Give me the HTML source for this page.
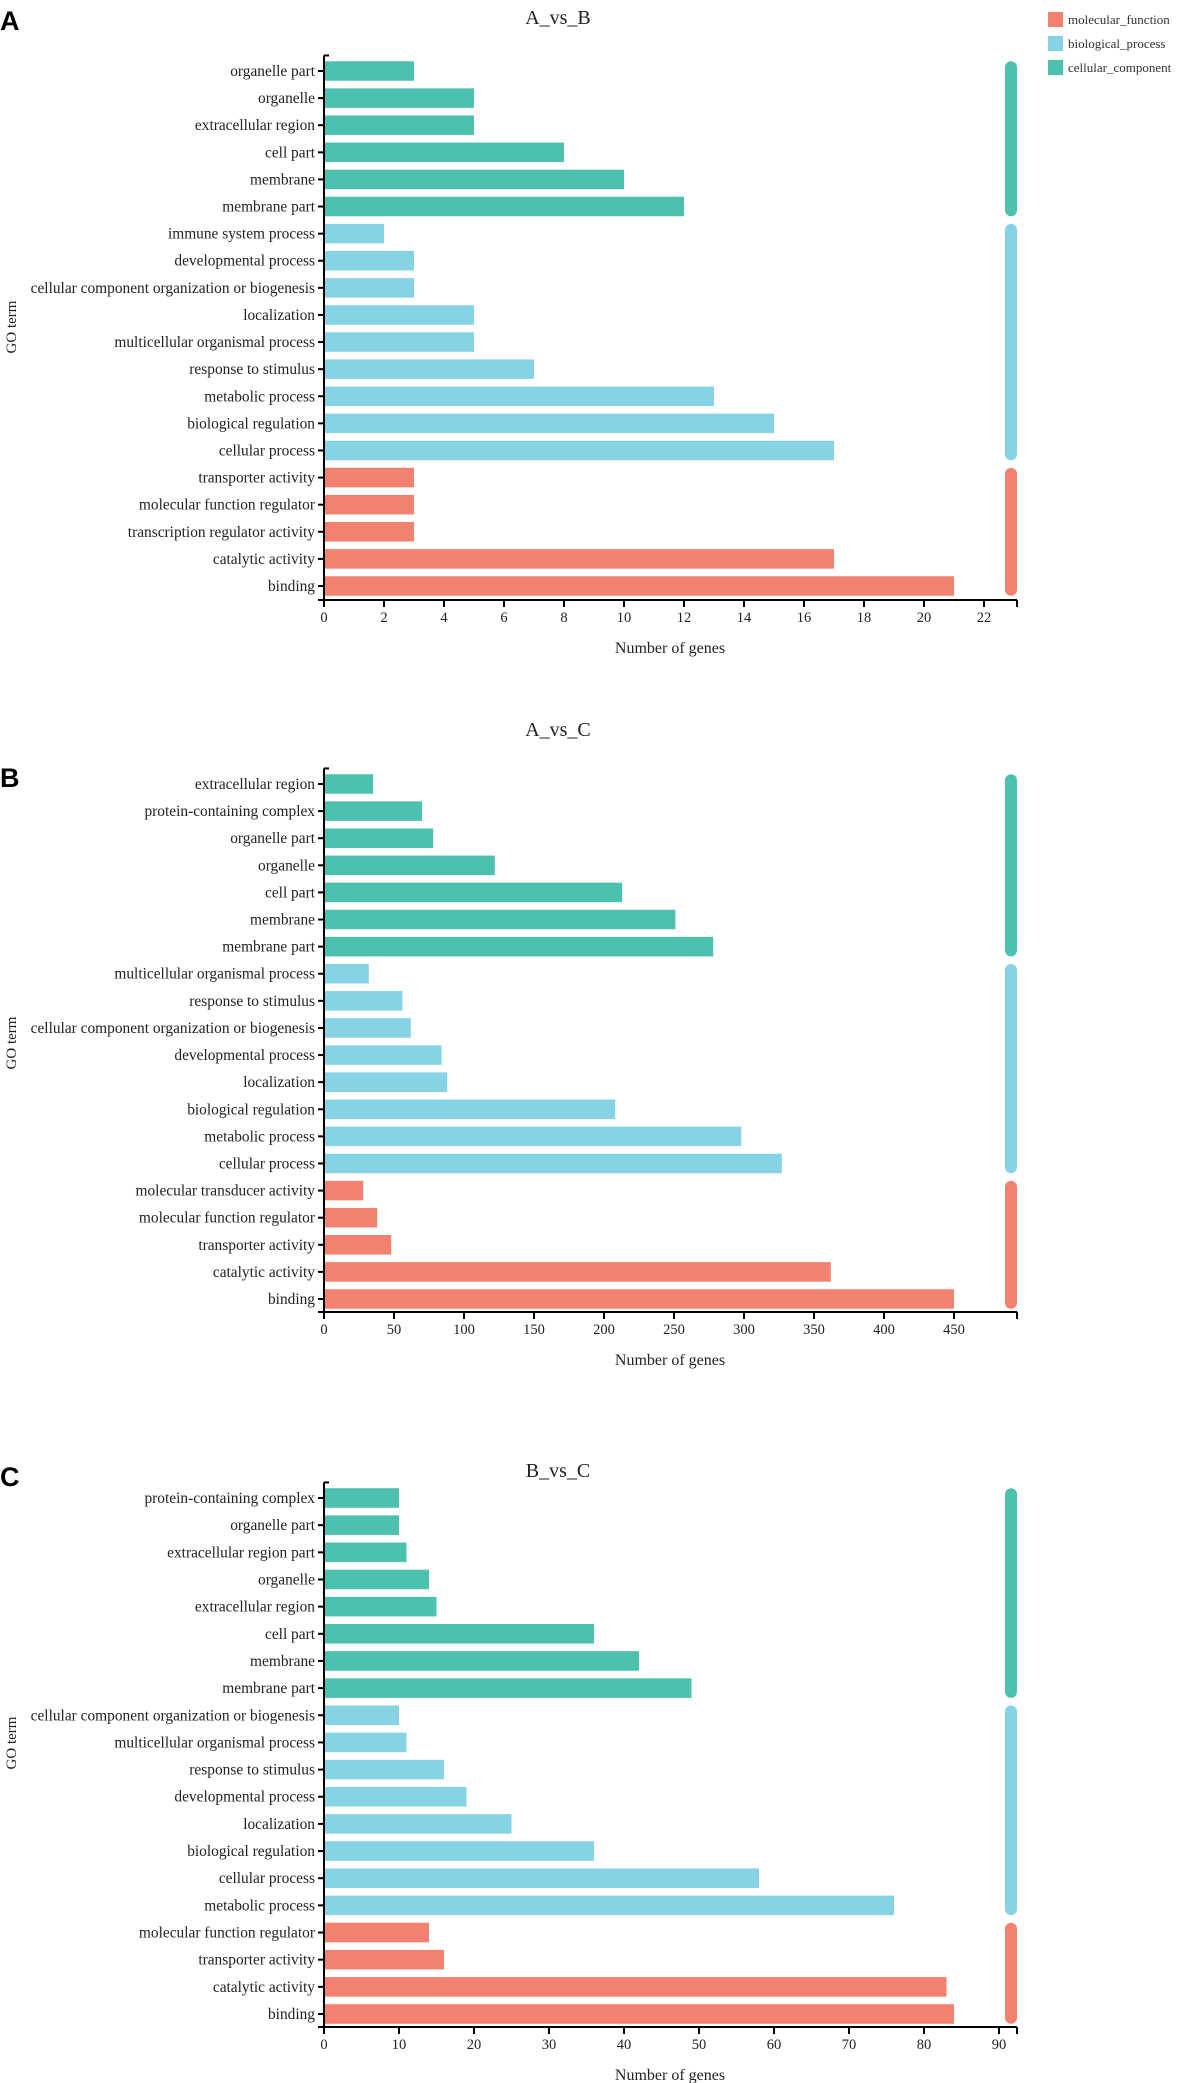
<!DOCTYPE html>
<html><head><meta charset="utf-8"><style>
html,body{margin:0;padding:0;background:#fff;}
svg{display:block;font-family:"Liberation Serif",serif;}
</style></head><body>
<svg id="fig" width="1181" height="2083" viewBox="0 0 1181 2083" xmlns="http://www.w3.org/2000/svg">
<g>
<rect x="1048" y="12" width="15" height="15" fill="#F28170"/>
<text x="1068" y="24" font-size="13" fill="#333">molecular_function</text>
<rect x="1048" y="36" width="15" height="15" fill="#87D3E6"/>
<text x="1068" y="48" font-size="13" fill="#333">biological_process</text>
<rect x="1048" y="60" width="15" height="15" fill="#4CC1AD"/>
<text x="1068" y="72" font-size="13" fill="#333">cellular_component</text>
</g>
</svg>
<script>
// Panel A data
const catsA = ["organelle part","organelle","extracellular region","cell part","membrane","membrane part","immune system process","developmental process","cellular component organization or biogenesis","localization","multicellular organismal process","response to stimulus","metabolic process","biological regulation","cellular process","transporter activity","molecular function regulator","transcription regulator activity","catalytic activity","binding"];
const valsA = [3,5,5,8,10,12,2,3,3,5,5,7,13,15,17,3,3,3,17,21];
const grpA = ["cc","cc","cc","cc","cc","cc","bp","bp","bp","bp","bp","bp","bp","bp","bp","mf","mf","mf","mf","mf"];
const ticksA = [0,2,4,6,8,10,12,14,16,18,20,22];
// Panel B data
const catsB = ["extracellular region","protein-containing complex","organelle part","organelle","cell part","membrane","membrane part","multicellular organismal process","response to stimulus","cellular component organization or biogenesis","developmental process","localization","biological regulation","metabolic process","cellular process","molecular transducer activity","molecular function regulator","transporter activity","catalytic activity","binding"];
const valsB = [35,70,78,122,213,251,278,32,56,62,84,88,208,298,327,28,38,48,362,450];
const grpB = ["cc","cc","cc","cc","cc","cc","cc","bp","bp","bp","bp","bp","bp","bp","bp","mf","mf","mf","mf","mf"];
const ticksB = [0,50,100,150,200,250,300,350,400,450];
// Panel C data
const catsC = ["protein-containing complex","organelle part","extracellular region part","organelle","extracellular region","cell part","membrane","membrane part","cellular component organization or biogenesis","multicellular organismal process","response to stimulus","developmental process","localization","biological regulation","cellular process","metabolic process","molecular function regulator","transporter activity","catalytic activity","binding"];
const valsC = [10,10,11,14,15,36,42,49,10,11,16,19,25,36,58,76,14,16,83,84];
const grpC = ["cc","cc","cc","cc","cc","cc","cc","cc","bp","bp","bp","bp","bp","bp","bp","bp","mf","mf","mf","mf"];
const ticksC = [0,10,20,30,40,50,60,70,80,90];

const COL = {cc:"#4CC1AD", bp:"#87D3E6", mf:"#F28170"};
const NS = "http://www.w3.org/2000/svg";
const svg = document.getElementById('fig');
function mk(tag, attrs, parent){ const e=document.createElementNS(NS,tag); for(const k in attrs) e.setAttribute(k,attrs[k]); (parent||svg).appendChild(e); return e; }

function panel(cfg){
  const g = mk('g',{});
  
  
  const x0=324, x1=1017;
  const xs = v => x0 + (v/cfg.max)*(x1-x0);
  const n = cfg.cats.length;
  const pitch = (cfg.lastY - cfg.firstY)/(n-1);
  const ys = i => cfg.firstY + i*pitch;
  const bh = pitch*0.72;
  const L = mk('text',{x:0,y:cfg.letterY,'font-size':27,'font-weight':'bold','font-family':'"Liberation Sans",sans-serif',fill:'#000'},g);
  L.textContent = cfg.letter;
  
  
  const T = mk('text',{x:558,y:cfg.titleY,'font-size':20,'text-anchor':'middle',fill:'#222'},g);
  T.textContent = cfg.title;
  
  
  cfg.cats.forEach((c,i)=>{
    const y = ys(i);
    const r = mk('rect',{x:x0,y:y-bh/2,width:xs(cfg.vals[i])-x0,height:bh,fill:COL[cfg.grp[i]]},g);
    
    
    mk('line',{x1:x0-6,x2:x0,y1:y,y2:y,stroke:'#000','stroke-width':2},g);
    const t = mk('text',{x:x0-9,y:y+5,'font-size':15.4,'text-anchor':'end',fill:'#222'},g);
    t.textContent = c;
    
    
  });
  ['cc','bp','mf'].forEach(k=>{
    const idx = cfg.grp.map((gg,i)=>gg===k?i:-1).filter(i=>i>=0);
    const top = ys(idx[0]) - bh/2, bot = ys(idx[idx.length-1]) + bh/2;
    const r = mk('rect',{x:1005,y:top,width:12,height:bot-top,rx:6,fill:COL[k]},g);
    
    
  });
  const yTop = ys(0)-pitch/2-2;
  const ax = mk('line',{x1:x0,x2:x0,y1:yTop,y2:cfg.axisY+1,stroke:'#000','stroke-width':2},g);
  
  
  mk('line',{x1:x0,x2:x0+5,y1:yTop,y2:yTop,stroke:'#000','stroke-width':2},g);
  const xa = mk('line',{x1:x0-6,x2:x1,y1:cfg.axisY,y2:cfg.axisY,stroke:'#000','stroke-width':2},g);
  
  
  mk('line',{x1:x1,x2:x1,y1:cfg.axisY,y2:cfg.axisY+7,stroke:'#000','stroke-width':2},g);
  cfg.ticks.forEach(v=>{
    mk('line',{x1:xs(v),x2:xs(v),y1:cfg.axisY,y2:cfg.axisY+7,stroke:'#000','stroke-width':2},g);
    const t = mk('text',{x:xs(v),y:cfg.axisY+22,'font-size':14.5,'text-anchor':'middle',fill:'#222'},g);
    t.textContent = v;
    
    
  });
  const xt = mk('text',{x:670,y:cfg.axisY+53,'font-size':16,'text-anchor':'middle',fill:'#222'},g);
  xt.textContent = 'Number of genes';
  
  
  const yt = mk('text',{x:0,y:0,'font-size':15,'text-anchor':'middle',fill:'#222',transform:`translate(16,${cfg.goY}) rotate(-90)`},g);
  yt.textContent = 'GO term';
  
  
}
panel({letter:'A',title:'A_vs_B',cats:catsA,vals:valsA,grp:grpA,ticks:ticksA,max:23.1,letterY:30,titleY:24,firstY:71,lastY:586,axisY:600,goY:327});
panel({letter:'B',title:'A_vs_C',cats:catsB,vals:valsB,grp:grpB,ticks:ticksB,max:495,letterY:787,titleY:736,firstY:784,lastY:1299,axisY:1312,goY:1043});
panel({letter:'C',title:'B_vs_C',cats:catsC,vals:valsC,grp:grpC,ticks:ticksC,max:92.4,letterY:1486,titleY:1477,firstY:1498,lastY:2014,axisY:2027,goY:1743});
</script>
</body></html>
